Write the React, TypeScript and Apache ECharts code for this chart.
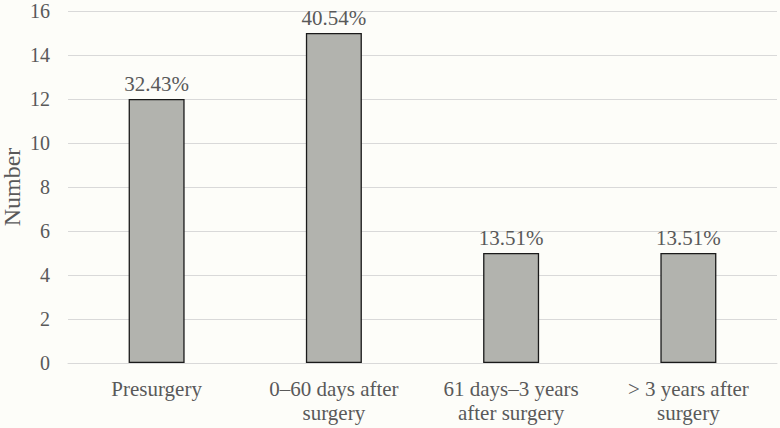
import React, { useEffect, useRef } from "react";
import * as echarts from "echarts";

const categories = ["Presurgery", "0–60 days after\nsurgery", "61 days–3 years\nafter surgery", "> 3 years after\nsurgery"];
const values = [12, 15, 5, 5];
const percentLabels = ["32.43%", "40.54%", "13.51%", "13.51%"];
const yAxisName = "Number";

const FONT = "serif";
const TEXT = "#595959";

export default function App() {
  const ref = useRef<HTMLDivElement>(null);
  useEffect(() => {
    document.body.style.margin = "0";
    const chart = echarts.init(ref.current!, undefined, { renderer: "svg" });
    chart.setOption({
      animation: false,
      backgroundColor: "#fdfdf9",
      textStyle: { fontFamily: FONT },
      grid: { left: 68, right: 3, top: 11, bottom: 65, containLabel: false, outerBoundsMode: "none" },
      xAxis: {
        type: "category",
        data: categories,
        axisLine: { show: true, lineStyle: { color: "#d9d9d9", width: 1 } },
        axisTick: { show: false },
        axisLabel: { color: TEXT, fontSize: 21, fontFamily: FONT, lineHeight: 24, margin: 14, interval: 0 },
      },
      yAxis: {
        type: "value",
        min: 0,
        max: 16,
        interval: 2,
        name: yAxisName,
        nameLocation: "middle",
        nameGap: 45,
        nameRotate: 90,
        nameMoveOverlap: false,
        nameTextStyle: { color: TEXT, fontSize: 24, lineHeight: 22, fontFamily: FONT },
        axisLine: { show: false },
        axisTick: { show: false },
        axisLabel: { color: TEXT, fontSize: 20, fontFamily: FONT, margin: 18 },
        splitLine: { lineStyle: { color: "#d9d9d9", width: 1 } },
      },
      series: [
        {
          type: "bar",
          data: values,
          barWidth: 56,
          itemStyle: { color: "#b2b3ae", borderColor: "#1a1a1a", borderWidth: 1.3 },
          label: {
            show: true,
            position: "top",
            distance: 5,
            color: TEXT,
            fontSize: 21,
            fontFamily: FONT,
            formatter: (p: any) => percentLabels[p.dataIndex],
          },
        },
      ],
    });
    return () => chart.dispose();
  }, []);
  return <div ref={ref} style={{ width: 780, height: 428 }} />;
}
